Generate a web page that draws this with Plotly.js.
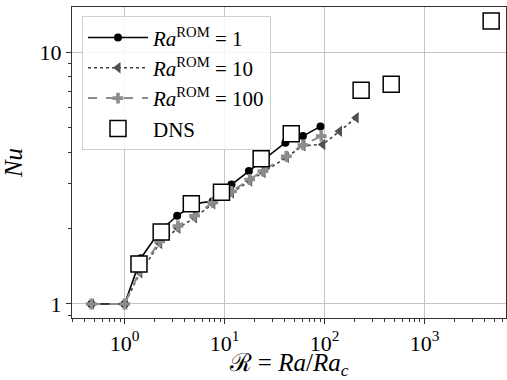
<!DOCTYPE html>
<html>
<head>
<meta charset="utf-8">
<script src="https://cdn.plot.ly/plotly-3.0.1.min.js"></script>
<style>html,body{margin:0;padding:0;background:#fff;}#chart{width:507px;height:380px;}</style>
</head>
<body>
<div id="chart"></div>
<script>
// R = Ra/Ra_c values and Nu values
const rom1X = [0.464, 1.0, 1.45, 2.25, 3.35, 5.0, 7.6, 11.7, 17.5, 24.5, 40.5, 60.7, 91];
const rom1Y = [1.0, 1.0, 1.52, 1.95, 2.24, 2.50, 2.56, 2.98, 3.37, 3.75, 4.37, 4.64, 5.07];

const rom10X = [0.464, 1.0, 1.42, 2.24, 3.41, 5.0, 7.6, 11.7, 17.8, 24.2, 41.4, 60.8, 96, 141, 207];
const rom10Y = [1.0, 1.0, 1.33, 1.74, 2.00, 2.20, 2.50, 2.76, 3.08, 3.33, 3.82, 4.25, 4.30, 4.85, 5.49];

const rom100X = [0.464, 1.0, 1.42, 2.24, 3.41, 5.0, 7.6, 11.7, 17.8, 24.2, 41.4, 60.8, 92.7];
const rom100Y = [1.0, 1.0, 1.36, 1.77, 2.04, 2.24, 2.53, 2.80, 3.12, 3.37, 3.86, 4.28, 4.64];

const dnsX = [1.39, 2.32, 4.64, 9.3, 23.2, 46.4, 232, 464, 4640];
const dnsY = [1.44, 1.93, 2.50, 2.78, 3.77, 4.74, 7.06, 7.46, 13.3];

const xTickVals = [1, 10, 100, 1000];
const xTickText = ['10<sup>0</sup>', '10<sup>1</sup>', '10<sup>2</sup>', '10<sup>3</sup>'];
const yTickVals = [1, 10];
const yTickText = ['1', '10'];

const names = [
  '<i>Ra</i><sup>ROM</sup> = 1',
  '<i>Ra</i><sup>ROM</sup> = 10',
  '<i>Ra</i><sup>ROM</sup> = 100',
  'DNS'
];

const serif = 'Liberation Serif, DejaVu Serif, serif';

const traces = [
  {x: rom1X, y: rom1Y, name: names[0], mode: 'lines+markers', type: 'scatter',
   line: {color: '#000', width: 1.6, dash: 'solid'},
   marker: {symbol: 'circle', size: 8, color: '#000'}},
  {x: rom10X, y: rom10Y, name: names[1], mode: 'lines+markers', type: 'scatter',
   line: {color: '#404040', width: 1.6, dash: 'dot'},
   marker: {symbol: 'triangle-left', size: 10, color: '#505050'}},
  {x: rom100X, y: rom100Y, name: names[2], mode: 'lines+markers', type: 'scatter',
   line: {color: '#8c8c8c', width: 2, dash: 'dash'},
   marker: {symbol: 'cross', size: 9, color: '#8c8c8c'}},
  {x: dnsX, y: dnsY, name: names[3], mode: 'markers', type: 'scatter',
   marker: {symbol: 'square', size: 16, color: '#fff', line: {color: '#000', width: 1.5}}}
];

const layout = {
  width: 507, height: 380,
  margin: {l: 72, r: 1, t: 7, b: 62},
  paper_bgcolor: '#fff', plot_bgcolor: '#fff',
  font: {family: serif, size: 21, color: '#000'},
  showlegend: true,
  legend: {
    x: 0.023, y: 0.97, xanchor: 'left', yanchor: 'top',
    bgcolor: 'rgba(255,255,255,0.85)', bordercolor: '#d0d0d0', borderwidth: 1,
    font: {family: serif, size: 21, color: '#000'},
    itemwidth: 60, tracegroupgap: 0
  },
  xaxis: {
    type: 'log', range: [-0.527, 3.815],
    tickvals: xTickVals, ticktext: xTickText,
    ticks: 'outside', ticklen: 5, tickwidth: 1, tickcolor: '#333',
    showgrid: true, gridcolor: '#c4c4c4', gridwidth: 1,
    showline: true, linecolor: '#333', linewidth: 1.2, mirror: true,
    zeroline: false,
    minor: {ticks: 'outside', ticklen: 3, tickcolor: '#333', dtick: 'D1', showgrid: false},
    tickfont: {family: serif, size: 22, color: '#000'},
    title: {text: 'ℛ = <i>Ra</i>/<i>Ra</i><sub><i>c</i></sub>', font: {family: serif, size: 25, color: '#000'}, standoff: 4}
  },
  yaxis: {
    type: 'log', range: [-0.0556, 1.179],
    tickvals: yTickVals, ticktext: yTickText,
    ticks: 'outside', ticklen: 5, tickwidth: 1, tickcolor: '#333',
    showgrid: true, gridcolor: '#c4c4c4', gridwidth: 1,
    showline: true, linecolor: '#333', linewidth: 1.2, mirror: true,
    zeroline: false,
    minor: {ticks: 'outside', ticklen: 3, tickcolor: '#333', dtick: 'D1', showgrid: false},
    tickfont: {family: serif, size: 22, color: '#000'},
    title: {text: '<i>Nu</i>', font: {family: serif, size: 25, color: '#000'}, standoff: 12}
  }
};

Plotly.newPlot('chart', traces, layout, {displayModeBar: false, staticPlot: true});
</script>
</body>
</html>
